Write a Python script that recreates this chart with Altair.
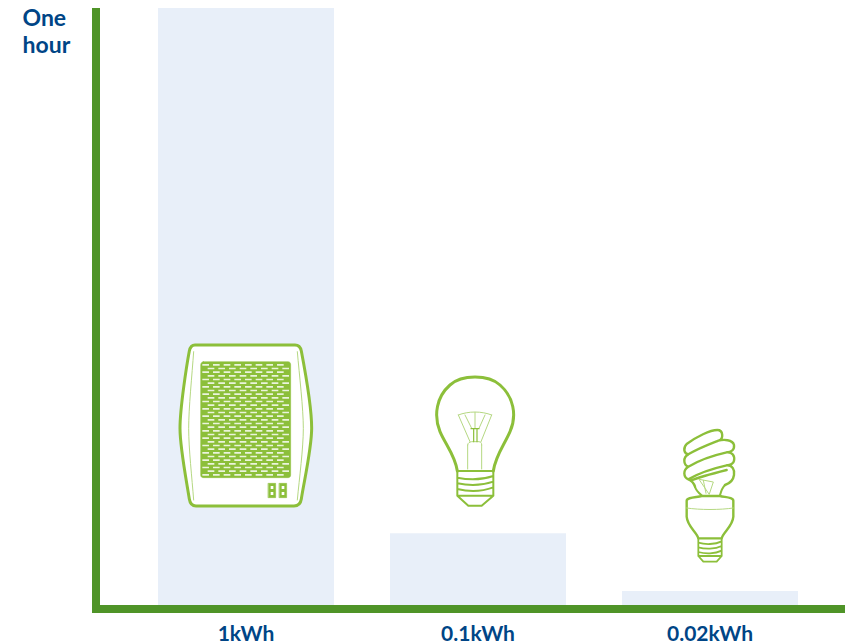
import re
import altair as alt
import pandas as pd

categories = ["1kWh", "0.1kWh", "0.02kWh"]
bar_values = [1.0, 0.126, 0.03]
y_label_lines = ["One", "hour"]

AXIS = "#4f9428"
BAR = "#e8eff9"
INK = "#004586"
ICON = "#8cbf3a"
THIN = "#b5d882"
FONT = "Lato"


def zp(s, ox, oy, cx, cy):
    """Scale a path drawn on a 3x crop to pixels relative to the icon anchor."""
    out = []
    for cmd, args in re.findall(r"([MLCQZ])([^MLCQZ]*)", s):
        nums = [float(n) for n in re.findall(r"-?[\d.]+", args)]
        pts = []
        for i in range(0, len(nums), 2):
            pts.append(f"{nums[i]/3 + ox - cx:.2f},{nums[i+1]/3 + oy - cy:.2f}")
        out.append(cmd + " ".join(pts))
    return " ".join(out)


def rect(x0, y0, x1, y1):
    return f"M{x0},{y0} L{x1},{y0} L{x1},{y1} L{x0},{y1} Z "


# --- heater ---
HO = (170, 335, 246, 425)
h_body = zp("M75,30 L375,30 C388,30 392,38 394,48 C402,90 425,220 425,280 C425,340 402,440 394,492 "
            "C392,505 385,513 372,513 L78,513 C65,513 60,505 58,492 C50,440 30,340 30,280 "
            "C30,220 50,90 58,48 C60,38 65,30 75,30 Z", *HO)
h_thin = zp("M71,50 C66,120 56,220 56,280 C56,340 66,430 71,495 M382,50 C388,120 400,220 400,280 "
            "C400,340 388,430 382,495", *HO)
h_mesh = zp("M100,80 L354,80 C360,80 362,84 362,90 L362,420 C362,426 358,428 354,428 L100,428 "
            "C96,428 92,426 92,420 L92,90 C92,84 96,80 100,80 Z", *HO)
holes = ""
for r, yy in enumerate(range(87, 424, 11)):
    start = 97 if r % 2 == 0 else 113
    for xx in range(start, 344, 32):
        holes += rect(xx, yy, xx + 20, yy + 5)
h_holes = zp(holes, *HO)
h_switch = zp(rect(295, 445, 317, 488) + rect(328, 445, 350, 488), *HO)
h_dots = zp(rect(302, 453, 310, 462) + rect(302, 471, 310, 480) + rect(335, 453, 343, 462) + rect(335, 471, 343, 480), *HO)

# --- incandescent bulb ---
BO = (425, 365, 478, 440)
b_glass = zp("M97,318 C90,270 62,240 45,200 C25,150 35,95 75,60 C110,28 190,28 225,60 "
             "C265,95 277,150 255,200 C238,240 212,270 205,318", *BO)
b_base = zp("M97,318 L205,318 M97,318 L97,392 L130,422 L170,422 L205,392 L97,392 M205,318 L205,392 "
            "M97,338 C130,345 170,345 205,333 M97,355 C130,362 170,362 205,350 M97,372 C130,380 170,380 205,367", *BO)
b_thin = zp("M100,150 C130,138 170,138 200,150 M100,150 L135,230 M200,150 L168,230 M128,240 L128,312 "
            "M170,240 L170,312 M128,240 C128,232 135,232 140,230 L162,230 C168,232 170,232 170,240 "
            "M120,150 L140,190 M180,150 L162,190 M150,142 L150,190", *BO)
b_stem = zp("M138,191 L162,191 M146,192 L146,230 M156,192 L156,230", *BO)

# --- compact fluorescent ---
CO = (670, 420, 710, 495)
c_coils = zp("M50,72 C80,50 120,30 142,30 C160,30 162,58 145,62 "
             "M145,62 C160,58 188,58 192,75 C194,92 182,96 170,97 "
             "M170,97 C187,95 195,108 192,122 C190,132 180,135 170,136 "
             "M170,136 C187,135 195,150 192,165 C190,180 180,190 165,195 "
             "M50,72 C38,85 42,100 55,103 C85,85 125,70 145,62 "
             "M55,103 C38,112 40,135 55,140 C85,122 125,107 170,97 "
             "M55,140 C38,150 40,172 55,178 C85,160 125,146 170,136 "
             "M55,178 C65,182 72,190 75,200 M62,182 C90,170 130,160 170,150", *CO)
c_neck = zp("M75,200 C78,212 88,220 95,226 M165,195 C155,205 152,218 150,226", *CO)
c_thin = zp("M88,178 L130,186 L118,222 Z M100,181 L108,220 M50,264 C90,270 150,270 190,264", *CO)
c_body = zp("M95,228 L150,228 C165,232 190,232 190,242 L190,290 C188,320 160,335 155,355 L85,355 "
            "C80,335 52,320 50,290 L50,242 C50,232 80,232 95,228 Z", *CO)
c_base = zp("M85,355 L85,408 L100,425 L140,425 L155,408 L155,355 M85,408 L155,408 "
            "M85,368 C105,374 135,374 155,364 M85,382 C105,388 135,388 155,378 M85,396 C105,402 135,402 155,392", *CO)

df = pd.DataFrame({"category": categories, "value": bar_values})

x_enc = alt.X(
    "category:N",
    sort=categories,
    scale=alt.Scale(range=[4, 760], paddingInner=0.2414, paddingOuter=0.25),
    axis=alt.Axis(
        title=None, domain=False, ticks=False, labelAngle=0, labelPadding=14,
        labelFont=FONT, labelFontSize=21, labelFontWeight=700, labelColor=INK,
        labelBaseline="top", grid=False,
    ),
)
y_enc = alt.Y(
    "value:Q",
    scale=alt.Scale(domain=[0, 1]),
    axis=alt.Axis(
        title=None, domain=False, ticks=False, grid=False, values=[1],
        labelExpr="['" + "','".join(y_label_lines) + "']",
        labelAlign="left", labelBaseline="top", labelPadding=74, labelOffset=-1,
        labelFont=FONT, labelFontSize=23, labelFontWeight=700, labelColor=INK,
        labelLineHeight=27,
    ),
)

bars = alt.Chart(df).mark_bar(color=BAR, cornerRadius=0).encode(x=x_enc, y=y_enc)

base_rule = alt.Chart(df.head(1))
h_rule = base_rule.mark_rule(color=AXIS, size=8).encode(x=alt.value(-4), x2=alt.value(749), y=alt.value(601))
v_rule = base_rule.mark_rule(color=AXIS, size=8).encode(x=alt.value(0), y=alt.value(0), y2=alt.value(605))


def icon(cat, cy, path, fill="transparent", stroke=ICON, sw=2.5):
    d = df[df.category == cat]
    return alt.Chart(d).mark_point(
        shape=path, size=4, fill=fill, stroke=stroke, strokeWidth=sw, opacity=1, fillOpacity=1,
        strokeJoin="round", strokeCap="round",
    ).encode(x=alt.X("category:N", sort=categories), y=alt.value(cy - 8))


layers = [
    bars,
    icon("1kWh", 425, h_body, fill="white", sw=3),
    icon("1kWh", 425, h_thin, stroke=THIN, sw=1),
    icon("1kWh", 425, h_mesh, fill=ICON, sw=0.5),
    icon("1kWh", 425, h_holes, fill="#eaf4dc", stroke="#eaf4dc", sw=0),
    icon("1kWh", 425, h_switch, fill=ICON, sw=0.5),
    icon("1kWh", 425, h_dots, fill="white", stroke="white", sw=0),
    icon("0.1kWh", 440, b_glass, sw=3),
    icon("0.1kWh", 440, b_base, sw=2),
    icon("0.1kWh", 440, b_thin, stroke=THIN, sw=1),
    icon("0.1kWh", 440, b_stem, stroke=ICON, sw=1.2),
    icon("0.02kWh", 495, c_coils, sw=2.4),
    icon("0.02kWh", 495, c_neck, sw=2),
    icon("0.02kWh", 495, c_body, sw=2.4),
    icon("0.02kWh", 495, c_thin, stroke=THIN, sw=1),
    icon("0.02kWh", 495, c_base, sw=1.8),
    v_rule,
    h_rule,
]

chart = (
    alt.layer(*layers)
    .properties(
        width=749, height=601,
        autosize=alt.AutoSizeParams(type="none"),
        padding={"left": 88, "top": 0, "right": 0, "bottom": 35},
        background="white",
    )
    .configure_view(stroke=None)
)

chart.save("out.html", embed_options={"renderer": "svg", "actions": False})
